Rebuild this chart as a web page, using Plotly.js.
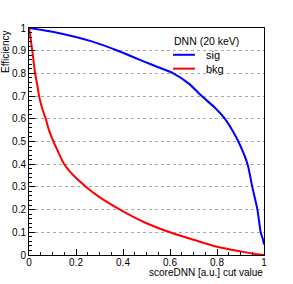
<!DOCTYPE html>
<html>
<head>
<meta charset="utf-8">
<script src="https://cdn.plot.ly/plotly-3.0.1.min.js"></script>
<style>html,body{margin:0;padding:0;background:#fff;}#chart{width:293px;height:284px;}</style>
</head>
<body>
<div id="chart"></div>
<script>
// Signal efficiency vs cut value
const sigX = [0, 0.125, 0.267, 0.378, 0.45, 0.49, 0.55, 0.614, 0.68, 0.735, 0.79, 0.834, 0.865, 0.891, 0.93, 0.95, 0.972, 0.986, 0.995, 1.0];
const sigY = [1.0, 0.978, 0.941, 0.9, 0.869, 0.852, 0.827, 0.8, 0.755, 0.7, 0.65, 0.6, 0.55, 0.5, 0.4, 0.3, 0.2, 0.1, 0.07, 0.046];
// Background efficiency vs cut value
const bkgX = [0, 0.005, 0.01, 0.014, 0.02, 0.026, 0.035, 0.043, 0.055, 0.071, 0.085, 0.104, 0.12, 0.15, 0.19, 0.243, 0.3, 0.387, 0.45, 0.5, 0.6, 0.7, 0.8, 0.9, 0.95, 1.0];
const bkgY = [1.0, 0.97, 0.93, 0.9, 0.85, 0.8, 0.75, 0.7, 0.65, 0.6, 0.55, 0.5, 0.464, 0.4, 0.35, 0.3, 0.255, 0.2, 0.165, 0.14, 0.1, 0.067, 0.036, 0.016, 0.007, 0.0];
const seriesNames = ["sig", "bkg"];
const seriesColors = ["#0000ff", "#ff0000"];
const legendHeader = "DNN (20 keV)";
const xTitle = "scoreDNN [a.u.] cut value";
const yTitle = "Efficiency";
const xTicks = [0, 0.2, 0.4, 0.6, 0.8, 1];
const xTickText = ["0", "0.2", "0.4", "0.6", "0.8", "1"];
const yTicks = [0, 0.1, 0.2, 0.3, 0.4, 0.5, 0.6, 0.7, 0.8, 0.9, 1];
const yTickText = ["0", "0.1", "0.2", "0.3", "0.4", "0.5", "0.6", "0.7", "0.8", "0.9", "1"];

const font = {family: "Liberation Sans, Arial, sans-serif", size: 10, color: "#000"};

const traces = [
  {x: sigX, y: sigY, name: seriesNames[0], mode: "lines", line: {color: seriesColors[0], width: 2, shape: "spline", smoothing: 0.7}},
  {x: bkgX, y: bkgY, name: seriesNames[1], mode: "lines", line: {color: seriesColors[1], width: 2, shape: "spline", smoothing: 0.8}}
];

// legend drawn as paper-positioned text + sample lines
const legX0 = 0.613, legX1 = 0.706, legTextX = 0.745;
const legRows = [0.882, 0.821];
const shapes = seriesNames.map((n, i) => ({
  type: "line", xref: "paper", yref: "paper",
  x0: legX0, x1: legX1, y0: legRows[i], y1: legRows[i],
  line: {color: seriesColors[i], width: 2}
}));
const legAnnots = seriesNames.map((n, i) => ({
  text: n, xref: "paper", yref: "paper", x: legTextX, y: legRows[i],
  xanchor: "left", yanchor: "middle", showarrow: false,
  font: {family: font.family, size: 11, color: "#000"}
}));

const layout = {
  width: 293, height: 284,
  margin: {l: 29, r: 29, t: 28, b: 29, pad: 0},
  paper_bgcolor: "#fff", plot_bgcolor: "#fff",
  font: font,
  showlegend: false,
  xaxis: {
    range: [0, 1], tickvals: xTicks, ticktext: xTickText,
    showgrid: false, zeroline: false,
    showline: true, mirror: true, linecolor: "#000", linewidth: 1,
    ticks: "inside", ticklen: 6, tickcolor: "#000",
    ticklabelstandoff: -2,
    minor: {dtick: 0.05, ticks: "inside", ticklen: 3, tickcolor: "#000", showgrid: false},
    tickfont: font
  },
  yaxis: {
    range: [0, 1], tickvals: yTicks, ticktext: yTickText,
    showgrid: true, gridcolor: "#aaaaaa", griddash: "dot", gridwidth: 1,
    zeroline: false,
    showline: true, mirror: true, linecolor: "#000", linewidth: 1,
    ticks: "inside", ticklen: 6, tickcolor: "#000",
    minor: {dtick: 0.02, ticks: "inside", ticklen: 3, tickcolor: "#000", showgrid: false},
    tickfont: font
  },
  shapes: shapes,
  annotations: [
    {text: xTitle, xref: "paper", yref: "paper", x: 1, y: -0.078, xanchor: "right", yanchor: "middle",
     showarrow: false, borderpad: 0, font: font},
    {text: yTitle, xref: "paper", yref: "paper", x: -0.1, y: 1, xanchor: "center", yanchor: "top",
     textangle: -90, showarrow: false, font: font},
    {text: legendHeader, xref: "paper", yref: "paper", x: 0.607, y: 0.944, xanchor: "left", yanchor: "middle",
     showarrow: false, font: {family: font.family, size: 10.5, color: "#000"}}
  ].concat(legAnnots)
};

Plotly.newPlot("chart", traces, layout, {displayModeBar: false, staticPlot: true});
</script>
</body>
</html>
